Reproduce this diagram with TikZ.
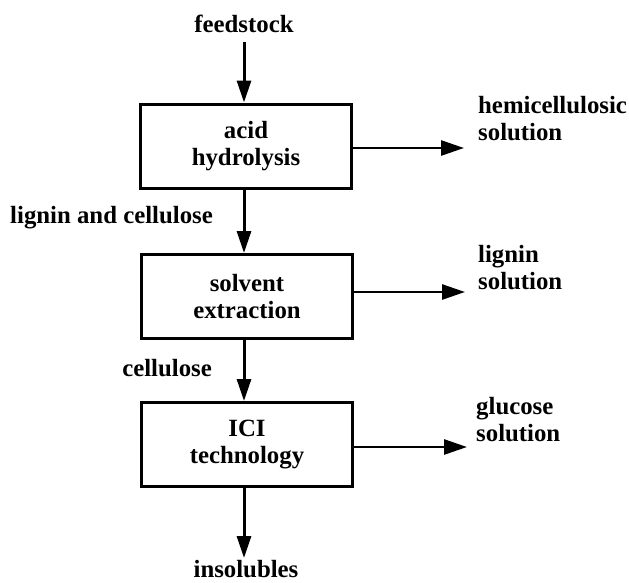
\documentclass[tikz,border=0pt]{standalone}
\usepackage{fontspec}
\setmainfont{Liberation Serif}
\usetikzlibrary{arrows.meta}
\begin{document}
\begin{tikzpicture}[x=1pt,y=-1pt,
  lbl/.style={font=\fontsize{24.8}{27}\selectfont\bfseries, inner sep=0pt},
  stage/.style={draw, line width=3pt, minimum width=211pt, minimum height=84pt,
    align=center, font=\fontsize{24.8}{27}\selectfont\bfseries, inner sep=0pt},
  flow/.style={line width=3pt, -{Triangle[length=22pt,width=14pt]}},
  side/.style={line width=2.7pt, -{Triangle[length=23pt,width=15pt]}}]
\useasboundingbox (0,0) rectangle (629,582);

\node[lbl, anchor=base] (feed) at (244,32) {feedstock};
\node[stage] (b1) at (246,146) {acid\\hydrolysis};
\node[stage] (b2) at (247,296.5) {solvent\\extraction};
\node[stage] (b3) at (247,444.5) {ICI\\technology};
\node[lbl, anchor=base] (ins) at (246,577) {insolubles};

\node[lbl, anchor=base east] (lc) at (213,223) {lignin and cellulose};
\node[lbl, anchor=base east] (cel) at (212,376) {cellulose};

\node[lbl, anchor=base west, align=left] (hemi) at (478,140) {hemicellulosic\\solution};
\node[lbl, anchor=base west, align=left] (lig) at (478,289) {lignin\\solution};
\node[lbl, anchor=base west, align=left] (glu) at (476,441) {glucose\\solution};

\coordinate (f0) at (244,42);
\coordinate (t1) at (464,148);
\coordinate (t2) at (465,292);
\coordinate (t3) at (467,447);
\coordinate (ib) at (244,558);

\draw[flow] (f0) -- (f0 |- b1.north);
\draw[flow] (b1.south -| f0) -- (f0 |- b2.north);
\draw[flow] (b2.south -| f0) -- (f0 |- b3.north);
\draw[flow] (b3.south -| f0) -- (ib);

\draw[side] (b1.east |- t1) -- (t1);
\draw[side] (b2.east |- t2) -- (t2);
\draw[side] (b3.east |- t3) -- (t3);
\end{tikzpicture}
\end{document}
